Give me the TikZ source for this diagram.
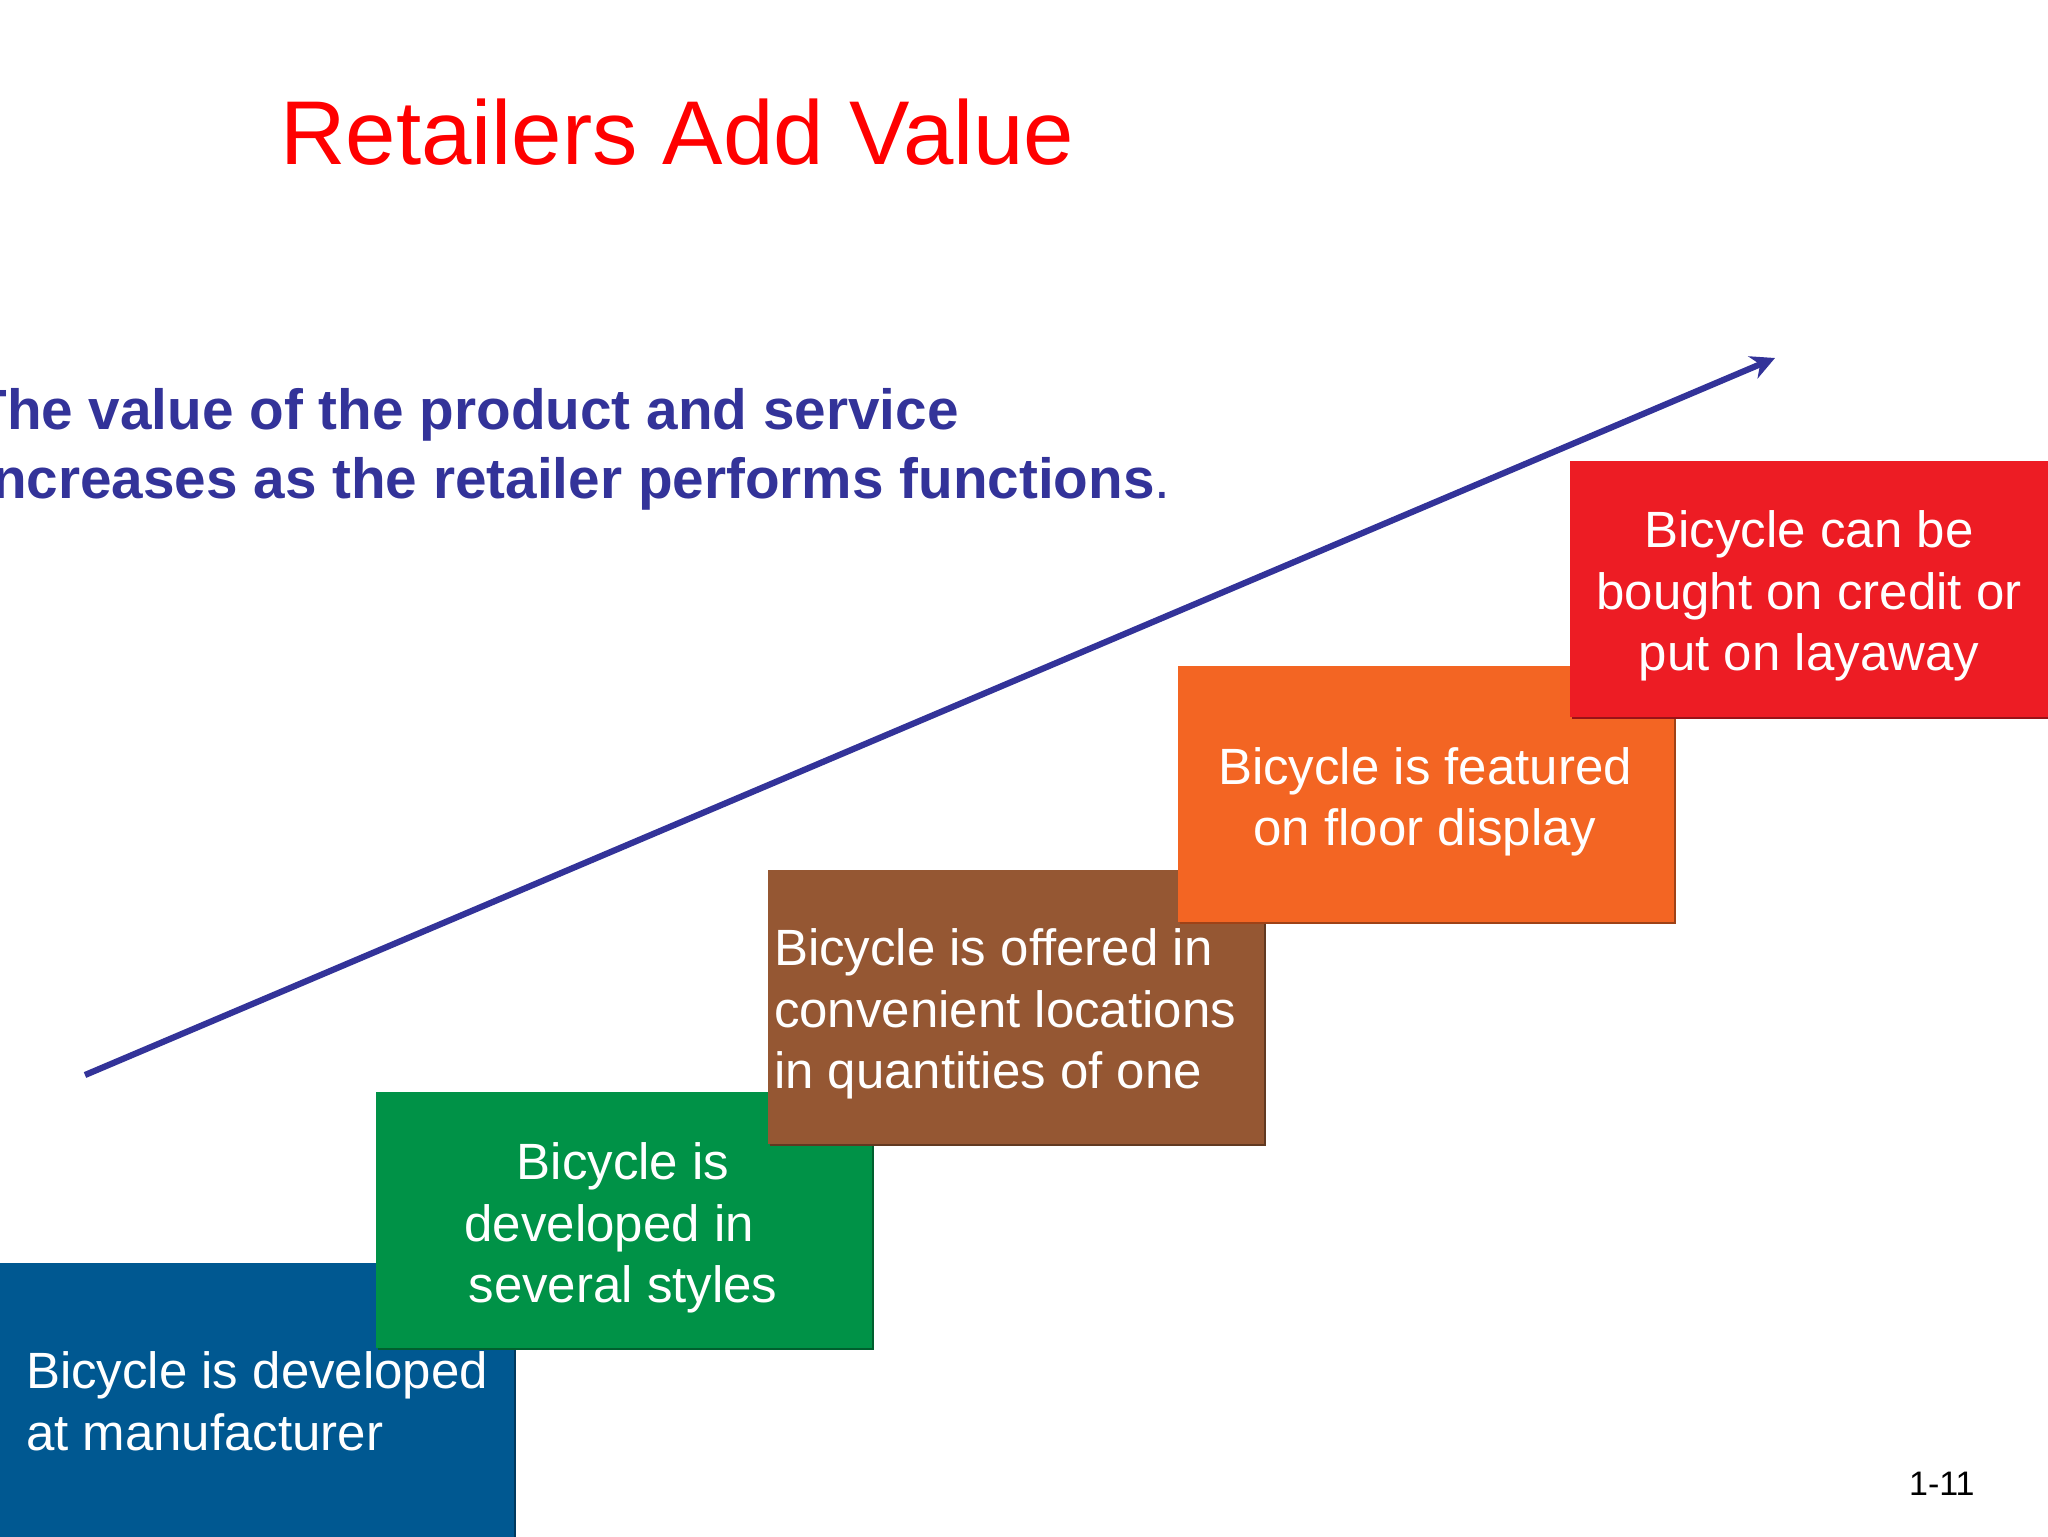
\documentclass[tikz,border=0pt]{standalone}
\usepackage{fontspec}
\setmainfont{Liberation Sans}
\usetikzlibrary{shadows,arrows.meta}
\definecolor{navy}{HTML}{333399}
\definecolor{bblue}{HTML}{005891}
\definecolor{bgreen}{HTML}{009247}
\definecolor{bbrown}{HTML}{955733}
\definecolor{borange}{HTML}{F36523}
\definecolor{bred}{HTML}{ED1C24}
\tikzset{
  x=0.5pt,y=-0.5pt,
  stepbox/.style={anchor=north west,inner sep=0pt,outer sep=0pt,fill=#1,draw=none,
    general shadow={shadow xshift=1.2pt,shadow yshift=-1.2pt,fill=#1!65!black}},
  boxtext/.style={text=white,font=\fontsize{25.5}{30.7}\selectfont,inner sep=0pt,outer sep=0pt},
  subline/.style={anchor=base east,inner sep=0pt,text=navy,font=\fontsize{28.35}{34}\selectfont\bfseries},
}
\begin{document}
\begin{tikzpicture}
\useasboundingbox (0,0) rectangle (2048,1536);
\fill[white] (0,0) rectangle (2048,1536);
\node[anchor=base west,inner sep=0pt,text=red,font=\fontsize{45.3}{50}\selectfont] (title) at (280,164) {Retailers Add Value};
\node[subline] (sub1) at (959,429) {The value of the product and service};
\node[subline] (sub2) at (1171,498) {increases as the retailer performs functions{\mdseries .}};
\coordinate (arrowstart) at (85,1075);
\coordinate (arrowend) at (1775,358);
\draw[navy,line width=3.1pt,-{Stealth[length=12pt,width=12pt]}] (arrowstart) -- (arrowend);
\node[stepbox=bblue,minimum width=257pt,minimum height=140pt] (b1) at (0,1263) {};
\node[boxtext,anchor=north west,align=left] (t1) at (26,1352) {Bicycle is developed\\at manufacturer};
\node[stepbox=bgreen,minimum width=248pt,minimum height=128pt] (b2) at (376,1092) {};
\node[boxtext,align=center] (t2) at (623,1228) {Bicycle is\\developed in\hspace*{0.54em}\mbox{}\\several styles};
\node[stepbox=bbrown,minimum width=248pt,minimum height=137pt] (b3) at (768,870) {};
\node[boxtext,anchor=west,align=left] (t3) at (774,1014) {Bicycle is offered in\\convenient locations\\in quantities of one};
\node[stepbox=borange,minimum width=248pt,minimum height=128pt] (b4) at (1178,666) {};
\node[boxtext,align=center] (t4) at (1425,802) {Bicycle is featured\\on floor display};
\node[stepbox=bred,minimum width=240pt,minimum height=128pt] (b5) at (1570,461) {};
\node[boxtext,align=center] (t5) at (1809,596) {Bicycle can be\\bought on credit or\\put on layaway};
\node[anchor=base east,inner sep=0pt,font=\fontsize{17}{20}\selectfont] (pg) at (1975,1495) {1-11};
\end{tikzpicture}
\end{document}
